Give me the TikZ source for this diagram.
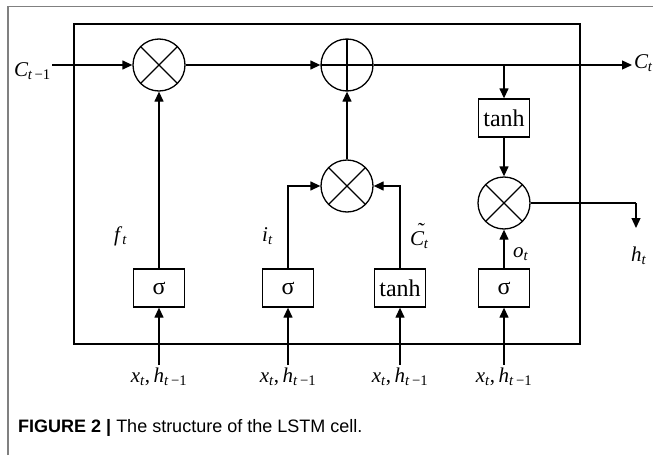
\documentclass[tikz,border=0pt]{standalone}
\usepackage{fontspec}
\setmainfont{Liberation Serif}
\newfontfamily\capfont{Liberation Sans}
\usetikzlibrary{arrows.meta}
\newcommand\lbl[3][0em]{\textit{#2}\kern#1\textsubscript{#3}}
\newcommand\tC{\rlap{\kern0.3em\raisebox{0.38em}{\char"02DC}}C}
\newcommand\xh{\lbl{x}{\textit{t}},\,\lbl{h}{\textit{t}\,−1}}
\tikzset{
  ln/.style={line width=1.3pt},
  arr/.style={ln,-{Triangle[length=10pt,width=9pt]}},
  opc/.style={circle,draw,ln,minimum size=52pt,inner sep=0pt},
  mul/.style={opc,path picture={
      \draw[ln] (path picture bounding box.south west)--(path picture bounding box.north east);
      \draw[ln] (path picture bounding box.north west)--(path picture bounding box.south east);}},
  addop/.style={opc,path picture={
      \draw[ln] (path picture bounding box.west)--(path picture bounding box.east);
      \draw[ln] (path picture bounding box.north)--(path picture bounding box.south);}},
  fbox/.style={draw,ln,minimum width=51pt,minimum height=38pt,inner sep=0pt,font=\fontsize{24}{26}\selectfont},
  mlab/.style={font=\fontsize{21}{23}\selectfont,inner sep=0pt},
  frame/.style={draw=black!50,line width=1.5pt}
}
\begin{document}
\begin{tikzpicture}[x=1pt,y=-1pt]
\useasboundingbox (0,0) rectangle (653,455);
\draw[frame] (8,455) -- (8,6.5) -- (653,6.5);
\draw[ln] (74,24) rectangle (580,344);
% operators
\node[mul] (m1) at (159,65) {};
\node[addop] (ad) at (347,65) {};
\node[mul] (m2) at (347,186) {};
\node[mul] (m3) at (504,203) {};
% boxes
\node[fbox] (tb) at (504,118) {tanh};
\node[fbox] (sf) at (159,288) {σ};
\node[fbox] (si) at (288,288) {σ};
\node[fbox] (tc) at (400,288) {tanh};
\node[fbox] (so) at (504,288) {σ};
% free ends
\coordinate (cin) at (52,65);
\coordinate (cout) at (632,65);
\coordinate (br) at (504,65);
\coordinate (hc) at (636,203);
\coordinate (hout) at (636,228);
\coordinate (xf) at (159,365);
\coordinate (xi) at (288,365);
\coordinate (xc) at (400,365);
\coordinate (xo) at (504,365);
% connectors
\draw[arr] (cin) -- (m1);
\draw[arr] (m1) -- (ad);
\draw[arr] (ad.east) -- (cout);
\draw[arr] (br) -- (tb);
\draw[arr] (tb) -- (m3);
\draw[ln] (m3) -- (hc);
\draw[arr] (hc) -- (hout);
\draw[arr] (sf) -- (m1);
\draw[arr] (si.north) |- (m2.west);
\draw[arr] (tc.north) |- (m2.east);
\draw[arr] (m2) -- (ad);
\draw[arr] (so) -- (m3);
\draw[arr] (xf) -- (sf);
\draw[arr] (xi) -- (si);
\draw[arr] (xc) -- (tc);
\draw[arr] (xo) -- (so);
% labels
\node[mlab,anchor=base west] (lcin) at (14,76) {\lbl[-0.03em]{C}{\textit{t}\,−1}};
\node[mlab,anchor=base west] (lcout) at (634,68) {\lbl[-0.03em]{C}{\textit{t}}};
\node[mlab,anchor=base west] (lh) at (631,261) {\lbl{h}{\textit{t}}};
\node[mlab,anchor=base west] (lf) at (114,241) {\lbl{f}{\textit{t}}};
\node[mlab,anchor=base west] (li) at (262,241) {\lbl{i}{\textit{t}}};
\node[mlab,anchor=base west] (lc) at (410,245) {\lbl[-0.03em]{\tC}{\textit{t}}};
\node[mlab,anchor=base west] (lo) at (513,257) {\lbl{o}{\textit{t}}};
\node[mlab,anchor=base] (lxf) at (159,382) {\xh};
\node[mlab,anchor=base] (lxi) at (288,382) {\xh};
\node[mlab,anchor=base] (lxc) at (400,382) {\xh};
\node[mlab,anchor=base] (lxo) at (504,382) {\xh};
% caption
\node[anchor=base west,inner sep=0pt,font=\capfont\fontsize{18}{20}\selectfont] (cap) at (18,432)
  {\textbf{FIGURE 2 |} The structure of the LSTM cell.};
\end{tikzpicture}
\end{document}
